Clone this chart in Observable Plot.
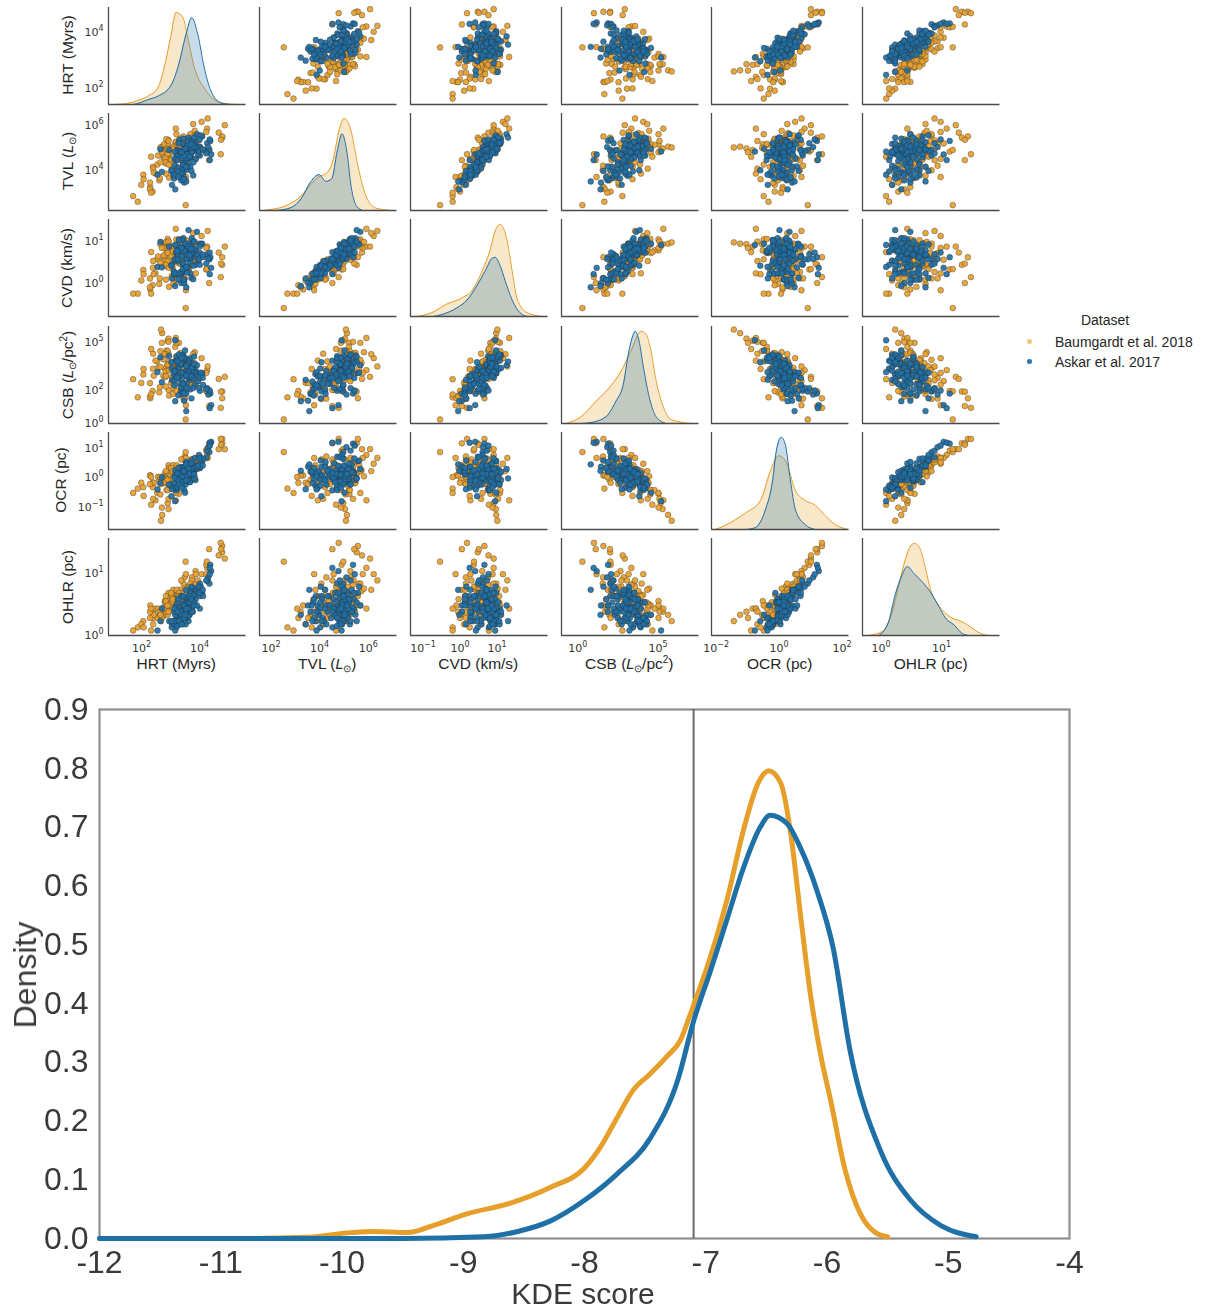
<!DOCTYPE html>
<html><head><meta charset="utf-8">
<script src="https://cdn.jsdelivr.net/npm/d3@7"></script>
<script src="https://cdn.jsdelivr.net/npm/@observablehq/plot@0.6"></script>
<style>
body{margin:0;background:#fff;}
#root{position:relative;width:1208px;height:1311px;background:#fff;font-family:"Liberation Sans",Arial,sans-serif;color:#262626;overflow:hidden}
.ylab{position:absolute;transform:translate(-50%,-50%) rotate(-90deg);white-space:nowrap;font-size:15.5px;line-height:1;color:#262626}
.xlab{position:absolute;transform:translateX(-50%);white-space:nowrap;font-size:15.5px;line-height:1;color:#262626}
.it{font-family:"DejaVu Sans";font-style:italic;font-size:14px}
.sub{font-size:10px;position:relative;top:3px}
.sup{font-size:10px;position:relative;top:-6px}
.leg{position:absolute;font-size:14px;line-height:1;white-space:nowrap;color:#262626}
.dot{position:absolute;width:4.5px;height:4.5px;border-radius:50%}
</style></head><body><div id="root"></div>
<script>
// ---------------- DATA (log10 values) ----------------
const variables = ["HRT","TVL","CVD","CSB","OCR","OHLR"];
const datasets = ["Baumgardt et al. 2018","Askar et al. 2017"];

const baumHRT = [3.09,3.10,2.84,3.71,2.76,2.51,3.38,2.80,4.16,3.00,2.82,3.44,1.96,4.18,3.10,1.77,3.19,2.83,4.68,2.79,2.96,2.61,3.72,2.81,1.89,3.64,3.24,2.44,3.28,4.77,2.65,2.85,3.39,2.83,1.61,3.43,3.15,2.29,4.68,2.70,3.35,3.06,3.97,2.97,2.28,3.29,3.10,2.66,2.38,3.07,4.13,2.99,2.20,3.73,2.72,2.30,3.84,2.93,2.99,2.80,2.80,4.56,2.74,3.34,3.39,2.57,3.29,3.55,2.32,3.09,3.23,2.19,3.76,3.04,2.73,3.12,3.08,2.92,1.97,3.63,2.75,4.63,2.94,3.25,4.23,2.98,3.43,2.23,3.60,2.98,3.42,
  3.15,2.67,3.54,3.34,2.84,2.55,4.13,2.74,3.23,2.83,3.27,3.29,2.19,4.15,3.24,2.47,3.11,3.58,2.60,2.53,3.16,3.77,3.68,2.80,2.23,3.29,3.19,4.64,2.55,3.19];
const baumTVL = [4.90,5.20,4.60,5.50,4.75,3.50,5.05,4.85,5.80,4.00,5.30,4.70,3.75,6.25,4.95,2.55,5.10,4.45,5.40,4.80,3.90,5.00,5.60,4.65,3.30,5.15,4.88,4.20,5.25,5.95,4.55,3.62,5.05,4.92,2.80,5.35,4.72,4.10,5.45,4.82,3.95,5.08,6.10,4.35,3.00,4.98,5.55,4.62,3.80,5.18,4.78,4.86,3.20,5.70,4.50,4.02,5.28,4.93,3.70,5.12,4.68,5.62,4.25,5.02,4.15,4.96,5.36,4.58,3.85,5.22,4.84,3.10,5.14,4.73,4.30,5.03,5.80,4.42,3.55,4.90,5.33,4.66,4.05,5.06,4.40,4.99,3.65,4.55,5.24,4.88,2.40,
  4.80,5.10,4.55,5.45,4.20,4.95,5.65,3.80,4.70,5.25,4.40,5.00,3.40,4.85,5.35,4.60,4.10,5.55,4.75,3.60,5.15,4.45,6.00,4.90,2.95,5.05,4.65,5.30,4.30,4.98];
const baumCVD = [0.70,0.74,0.53,0.90,0.68,-0.05,0.60,0.83,0.83,0.10,0.96,0.35,0.28,1.20,0.59,-0.28,0.74,0.45,0.40,0.78,0.13,0.90,0.91,0.42,0.03,0.68,0.54,0.53,0.83,0.83,0.52,-0.12,0.60,0.89,-0.28,0.98,0.45,0.33,0.58,0.60,0.08,0.74,1.08,0.34,-0.08,0.72,1.00,0.62,0.20,0.72,0.29,0.84,-0.18,0.94,0.50,0.49,0.57,0.62,-0.05,1.01,0.48,0.69,0.37,0.74,0.08,0.93,0.82,0.37,0.18,0.86,0.42,-0.13,0.52,0.67,0.40,0.64,1.25,0.39,0.18,0.48,0.94,0.11,0.13,0.72,-0.03,0.79,-0.20,0.70,0.68,0.72,-0.62,
  0.63,0.80,0.30,0.98,0.33,0.88,0.80,0.05,0.65,0.95,0.23,0.58,0.08,0.30,0.90,0.60,0.05,0.83,0.80,0.08,0.85,0.20,1.15,0.68,-0.28,0.73,0.55,0.43,0.45,0.59];
const baumCSB = [3.51,3.18,3.65,3.28,4.36,1.78,3.29,4.97,3.15,2.03,4.20,2.87,2.88,3.38,3.21,1.47,4.84,1.93,1.83,3.47,2.33,5.44,3.59,3.33,2.36,2.67,3.32,3.69,3.65,2.74,2.81,1.58,3.38,5.10,2.59,3.85,2.84,3.23,1.41,3.25,1.37,4.59,3.89,2.43,1.86,3.30,4.84,3.82,3.74,3.45,1.86,3.58,1.41,4.26,2.73,4.17,2.88,3.26,1.68,4.33,3.13,2.61,2.80,3.05,1.39,5.66,3.73,2.53,2.81,3.99,2.90,1.51,2.47,3.68,3.09,3.43,5.14,2.38,3.22,2.52,4.11,0.82,2.73,3.88,0.93,3.63,0.98,4.46,3.15,3.22,0.10,
  3.21,4.16,2.33,3.78,3.15,4.33,2.98,2.14,3.21,4.90,1.92,3.32,2.35,1.84,4.21,3.30,1.88,3.79,4.84,2.10,3.38,2.25,4.14,3.48,1.65,4.09,2.70,1.82,3.35,2.94];
const baumOCR = [0.05,0.12,-0.25,0.40,-0.45,-0.10,0.20,-0.90,0.75,0.15,-0.22,0.35,-0.35,0.65,0.08,-0.40,-0.58,0.40,1.15,-0.04,0.15,-1.30,0.23,-0.10,-0.20,0.60,-0.08,-0.55,0.22,0.95,0.02,0.30,0.15,-1.10,-0.55,0.00,0.32,-0.35,1.30,0.04,0.60,-0.45,0.45,0.18,-0.20,0.10,-0.55,-0.22,-0.80,0.13,0.90,-0.12,0.05,0.02,0.15,-0.75,0.50,0.15,0.40,-0.45,0.03,0.95,-0.03,0.15,0.70,-1.50,0.07,0.25,-0.20,-0.15,0.30,0.05,0.65,-0.25,-0.05,0.00,-0.80,0.30,-0.65,0.60,-0.10,1.30,-0.10,-0.18,1.15,-0.08,0.65,-0.95,0.33,0.20,0.85,
  0.05,-0.20,0.40,0.15,-0.25,-0.60,0.65,0.20,0.05,-0.75,0.60,0.10,-0.25,0.95,-0.20,0.00,0.40,0.20,-1.05,0.00,0.15,0.50,0.20,-0.10,0.00,-0.30,0.25,1.10,-0.25,0.30];
const baumOHLR = [0.50,0.62,0.35,0.80,0.45,0.30,0.55,0.40,1.05,0.60,0.48,0.70,0.20,0.85,0.58,0.10,0.52,0.65,1.30,0.38,0.45,0.30,0.68,0.55,0.15,0.90,0.47,0.25,0.60,1.20,0.42,0.55,0.75,0.35,0.05,0.50,0.62,0.35,1.40,0.52,0.80,0.40,0.95,0.58,0.25,0.65,0.45,0.28,0.40,0.55,1.10,0.48,0.45,0.72,0.50,0.15,0.85,0.60,0.70,0.30,0.43,1.25,0.52,0.45,0.90,0.20,0.62,0.75,0.30,0.50,0.70,0.35,1.00,0.50,0.40,0.55,0.40,0.65,0.10,0.85,0.35,1.45,0.50,0.62,1.35,0.42,0.95,0.05,0.78,0.55,1.15,
  0.55,0.40,0.75,0.60,0.45,0.30,0.95,0.60,0.50,0.35,0.85,0.65,0.25,1.15,0.45,0.40,0.70,0.80,0.25,0.35,0.55,0.95,0.70,0.45,0.40,0.50,0.65,1.35,0.30,0.60];

const askarHRT = [3.56,3.43,3.12,3.34,3.66,3.42,3.26,4.24,3.20,3.57,3.01,3.56,3.99,3.09,3.16,3.09,3.91,4.30,2.95,3.14,3.76,3.53,2.94,3.61,3.81,3.33,2.55,3.37,3.55,3.62,3.34,4.16,3.59,3.32,2.45,3.91,3.34,3.76,2.60,3.20,4.27,3.55,3.58,3.62,3.27,3.56,3.25,3.47,3.73,3.52,3.34,3.23,3.43,3.67,3.05,4.20,3.57,3.27,3.48,3.94,3.44,3.44,3.37,3.40,3.91,3.69,3.17,3.61,3.45,3.62,3.51,3.50,3.30,3.47,3.02,3.80,3.06,4.25,3.51,3.68,3.25,3.58,3.44,4.25,3.06,3.44,3.13,3.72,3.44,3.64,
  3.63,3.61,3.28,3.16,3.63,3.85,2.85,3.69,3.71,3.04,3.88,3.37,3.52,3.33,3.40,3.36,4.13,3.19,3.04,4.02,2.93,3.90,3.55,3.28,3.17,3.70,3.14,4.01,3.44,3.61];
const askarTVL = [4.80,4.95,4.60,3.85,5.10,4.70,3.95,4.85,5.30,4.50,3.70,4.90,5.45,4.40,4.75,3.80,5.00,4.65,3.30,4.85,5.20,4.55,3.90,4.78,5.55,4.20,4.88,3.60,5.05,4.72,4.00,5.15,4.62,4.82,3.75,4.95,5.35,4.45,3.88,4.80,5.25,4.58,4.10,4.92,3.50,5.08,4.68,3.98,4.84,5.40,4.30,3.65,4.76,5.18,4.15,4.98,4.52,3.82,4.87,5.50,4.35,4.70,3.40,5.02,4.60,4.83,4.05,5.28,4.48,3.92,4.90,4.25,5.12,4.66,3.58,4.96,4.78,4.40,5.22,3.72,4.74,4.88,4.12,5.32,3.10,4.93,4.58,5.05,3.45,4.80,
  4.75,4.95,4.50,3.90,5.20,4.65,4.85,4.30,5.40,3.75,4.80,4.60,5.05,4.20,4.90,3.55,4.70,5.15,4.45,4.85,3.95,5.30,4.55,4.75,3.65,5.00,4.40,4.88,4.10,5.10];
const askarCVD = [0.73,0.80,0.68,0.23,0.78,0.88,0.18,0.53,1.00,0.53,0.25,0.70,0.90,0.70,0.63,0.18,0.90,0.33,0.08,0.80,0.75,0.63,0.40,0.62,1.18,0.43,0.94,0.05,0.83,0.55,0.38,0.65,0.59,0.77,0.35,0.68,1.03,0.40,0.34,0.83,0.58,0.64,0.20,0.75,-0.03,0.79,0.74,0.22,0.61,1.22,0.43,0.20,0.64,0.97,0.50,0.54,0.44,0.24,0.73,0.88,0.55,0.56,-0.03,0.89,0.40,0.67,0.48,0.87,0.54,0.09,0.81,0.33,0.99,0.64,0.19,0.64,0.87,0.18,0.90,0.06,0.76,0.64,0.34,0.69,-0.10,0.79,0.73,0.72,-0.13,0.68,
  0.68,0.75,0.60,0.20,1.03,0.50,0.83,0.38,0.95,0.20,0.53,0.73,0.83,0.30,0.90,0.05,0.43,0.98,0.53,0.58,0.38,0.83,0.63,0.80,0.05,0.78,0.53,0.64,0.35,0.78];
const askarCSB = [2.98,3.49,4.02,2.12,3.56,3.66,1.84,1.83,3.74,3.01,2.91,3.54,2.97,3.73,3.41,2.76,2.95,0.99,2.55,3.06,3.02,2.65,3.25,3.49,3.46,2.38,3.95,1.96,3.61,2.57,2.74,2.04,2.91,3.00,3.03,2.84,4.06,3.16,2.41,3.33,1.70,2.94,1.96,3.17,1.68,3.87,3.51,2.30,2.19,3.68,2.31,2.29,3.49,3.22,3.11,1.64,3.34,2.10,3.48,2.99,2.85,3.12,1.26,3.86,1.87,3.04,2.63,3.55,2.05,1.41,3.54,2.72,4.08,2.99,2.45,2.77,5.00,0.80,3.37,2.05,3.53,2.92,1.69,1.89,1.23,3.40,3.69,3.00,0.62,2.81,
  3.11,3.35,2.98,2.78,3.29,2.47,4.02,2.64,3.99,2.21,2.05,3.91,3.05,2.30,4.37,1.71,1.99,4.12,3.09,2.23,3.64,2.67,2.87,3.92,1.59,3.54,2.68,2.68,2.82,2.77];
const askarOCR = [0.18,0.03,-0.40,0.13,-0.03,-0.26,0.34,0.85,0.14,-0.06,-0.29,-0.08,0.54,-0.46,-0.03,-0.37,0.30,1.20,-0.42,0.16,0.43,0.22,-0.30,-0.11,0.27,0.18,-0.21,0.08,-0.03,0.30,-0.08,0.90,0.11,0.18,-0.43,0.34,-0.11,-0.11,-0.02,-0.02,1.14,-0.03,0.35,0.19,0.18,-0.16,-0.13,0.05,0.64,-0.05,0.27,-0.08,-0.13,0.26,-0.26,1.02,-0.18,0.18,-0.06,0.56,0.00,0.05,0.35,-0.08,0.69,0.16,-0.05,0.13,0.46,0.56,-0.08,0.02,-0.26,0.10,-0.21,0.38,-0.83,1.17,0.19,0.10,-0.16,0.26,0.51,1.07,0.21,0.02,-0.34,0.30,0.43,0.27,
  0.08,0.11,0.01,-0.10,0.17,0.38,-0.26,0.09,-0.05,0.02,0.75,-0.45,0.28,0.22,-0.54,0.19,0.67,-0.26,-0.02,0.62,-0.66,0.63,0.10,-0.37,0.31,0.09,0.12,0.39,-0.12,0.46];
const askarOHLR = [0.35,0.45,0.25,0.30,0.55,0.15,0.60,0.80,0.40,0.35,0.20,0.50,0.65,0.10,0.30,0.45,0.40,1.00,0.15,0.25,0.70,0.40,0.10,0.55,0.45,0.35,0.20,0.50,0.30,0.62,0.25,0.85,0.45,0.38,0.05,0.60,0.30,0.55,0.40,0.15,1.10,0.30,0.70,0.42,0.35,0.50,0.20,0.55,0.72,0.20,0.45,0.25,0.48,0.35,0.15,0.90,0.65,0.35,0.32,0.75,0.25,0.58,0.45,0.25,0.80,0.50,0.20,0.55,0.40,0.75,0.28,0.60,0.15,0.38,0.20,0.68,0.05,1.05,0.42,0.60,0.22,0.60,0.45,0.95,0.30,0.35,0.12,0.62,0.70,0.45,
  0.40,0.55,0.30,0.50,0.35,0.65,0.20,0.45,0.50,0.35,0.75,0.25,0.40,0.60,0.30,0.45,0.85,0.20,0.40,0.60,0.20,0.65,0.50,0.15,0.55,0.45,0.35,0.70,0.40,0.55];

// diagonal KDE curves: [log10 value, density relative to panel height]
const baumKdeHRT = [[0.95,0],[1.4,0.01],[1.77,0.04],[2.11,0.085],[2.46,0.17],[2.68,0.38],[2.92,0.72],[3.09,0.95],[3.32,0.9],[3.49,0.69],[3.72,0.38],[4.06,0.17],[4.41,0.05],[4.87,0.006],[5.33,0]];
const askarKdeHRT = [[1.6,0],[1.77,0.01],[2.11,0.05],[2.46,0.085],[2.92,0.2],[3.15,0.38],[3.43,0.72],[3.63,0.895],[3.84,0.72],[4.06,0.38],[4.29,0.14],[4.64,0.017],[4.98,0]];
const baumKdeTVL = [[1.54,0],[1.87,0.01],[2.49,0.05],[3.11,0.15],[3.52,0.27],[3.85,0.35],[4.14,0.38],[4.42,0.51],[4.67,0.82],[4.88,0.95],[5.17,0.82],[5.45,0.46],[5.78,0.15],[6.19,0.025],[6.81,0]];
const askarKdeTVL = [[2.08,0],[2.7,0.03],[3.11,0.12],[3.52,0.3],[3.85,0.37],[4.14,0.30],[4.38,0.33],[4.59,0.6],[4.8,0.79],[5.0,0.6],[5.17,0.25],[5.41,0.04],[5.66,0]];
const baumKdeCVD = [[-1.24,0],[-0.84,0.04],[-0.43,0.13],[-0.03,0.19],[0.25,0.27],[0.52,0.47],[0.73,0.68],[0.87,0.88],[1.0,0.95],[1.19,0.79],[1.33,0.47],[1.46,0.19],[1.73,0.04],[2.14,0]];
const askarKdeCVD = [[-0.8,0],[-0.57,0.02],[-0.16,0.09],[0.11,0.17],[0.38,0.32],[0.6,0.47],[0.79,0.6],[0.87,0.61],[1.0,0.53],[1.14,0.37],[1.33,0.17],[1.54,0.04],[1.73,0]];
const baumKdeCSB = [[-0.92,0],[0.015,0.07],[0.95,0.23],[1.88,0.39],[2.51,0.54],[3.13,0.75],[3.75,0.95],[4.06,0.92],[4.37,0.75],[4.69,0.44],[5.12,0.18],[5.62,0.04],[6.87,0]];
const askarKdeCSB = [[0.0,0],[0.64,0.01],[1.57,0.07],[2.19,0.23],[2.63,0.39],[3.0,0.75],[3.25,0.91],[3.38,0.95],[3.63,0.85],[3.88,0.6],[4.25,0.28],[4.69,0.07],[5.31,0]];
const baumKdeOCR = [[-2.08,0],[-1.61,0.07],[-1.13,0.17],[-0.65,0.3],[-0.34,0.6],[-0.08,0.76],[0.14,0.71],[0.46,0.4],[0.77,0.3],[1.09,0.25],[1.41,0.14],[1.73,0.05],[2.14,0]];
const askarKdeOCR = [[-1.1,0],[-0.81,0.02],[-0.5,0.2],[-0.27,0.5],[-0.15,0.81],[0.01,0.95],[0.14,0.87],[0.3,0.5],[0.46,0.2],[0.77,0.05],[1.09,0]];
const baumKdeOHLR = [[-0.24,0],[-0.015,0.04],[0.15,0.24],[0.26,0.52],[0.37,0.79],[0.45,0.92],[0.52,0.95],[0.62,0.88],[0.7,0.69],[0.78,0.48],[0.92,0.31],[1.11,0.19],[1.31,0.14],[1.44,0.09],[1.61,0.02],[1.74,0]];
const askarKdeOHLR = [[-0.07,0],[0.09,0.14],[0.2,0.42],[0.31,0.62],[0.4,0.71],[0.51,0.64],[0.65,0.55],[0.78,0.45],[0.92,0.3],[1.03,0.18],[1.17,0.11],[1.31,0.02],[1.41,0]];

// axis domains / ticks (log10 exponents)
const colDomainHRT=[0.76,5.5], colDomainTVL=[1.4,7.06], colDomainCVD=[-1.42,2.30], colDomainCSB=[-1.2,7.36], colDomainOCR=[-2.21,2.16], colDomainOHLR=[-0.34,1.93];
const rowDomainHRT=[1.40,4.83], rowDomainTVL=[2.16,6.47], rowDomainCVD=[-0.82,1.47], rowDomainCSB=[-0.15,5.85], rowDomainOCR=[-1.80,1.52], rowDomainOHLR=[-0.03,1.52];
const colTicksHRT=[2,4], colTicksTVL=[2,4,6], colTicksCVD=[-1,0,1], colTicksCSB=[0,5], colTicksOCR=[-2,0,2], colTicksOHLR=[0,1];
const rowTicksHRT=[2,4], rowTicksTVL=[4,6], rowTicksCVD=[0,1], rowTicksCSB=[0,2,5], rowTicksOCR=[-1,0,1], rowTicksOHLR=[0,1];

// bottom chart
const kdeScoreBaum = [[-12,0],[-10.75,0],[-10.3,0.002],[-9.93,0.010],[-9.74,0.012],[-9.46,0.010],[-9.25,0.022],[-8.97,0.042],[-8.61,0.060],[-8.28,0.087],[-8.0,0.12],[-7.87,0.155],[-7.73,0.206],[-7.6,0.252],[-7.46,0.28],[-7.32,0.31],[-7.21,0.337],[-7.13,0.38],[-6.96,0.48],[-6.82,0.58],[-6.69,0.694],[-6.57,0.774],[-6.48,0.796],[-6.38,0.774],[-6.3,0.69],[-6.22,0.553],[-6.14,0.42],[-6.05,0.31],[-5.97,0.235],[-5.85,0.116],[-5.72,0.04],[-5.6,0.01],[-5.5,0.003]];
const kdeScoreAskar = [[-12,0],[-9.5,0],[-8.83,0.003],[-8.55,0.012],[-8.28,0.03],[-8.0,0.065],[-7.73,0.11],[-7.46,0.17],[-7.23,0.27],[-7.1,0.37],[-6.96,0.456],[-6.82,0.546],[-6.69,0.63],[-6.55,0.70],[-6.47,0.72],[-6.33,0.706],[-6.22,0.665],[-6.08,0.59],[-5.95,0.495],[-5.81,0.32],[-5.56,0.15],[-5.31,0.065],[-5.06,0.022],[-4.77,0.003]];
const kdeThreshold = -7.1;
const kdeXTicks = [-12,-11,-10,-9,-8,-7,-6,-5,-4];
const kdeYTicks = [0,0.1,0.2,0.3,0.4,0.5,0.6,0.7,0.8,0.9];

// ---------------- BUILD ----------------
const ORANGE = "#e79f2c", BLUE = "#1f70a6";
const root = document.getElementById("root");
function table(H,T,C,S,O,R){ return H.map((_,k)=>({HRT:H[k],TVL:T[k],CVD:C[k],CSB:S[k],OCR:O[k],OHLR:R[k]})); }
const baum = table(baumHRT,baumTVL,baumCVD,baumCSB,baumOCR,baumOHLR);
const askar = table(askarHRT,askarTVL,askarCVD,askarCSB,askarOCR,askarOHLR);
const baumKde = {HRT:baumKdeHRT,TVL:baumKdeTVL,CVD:baumKdeCVD,CSB:baumKdeCSB,OCR:baumKdeOCR,OHLR:baumKdeOHLR};
const askarKde = {HRT:askarKdeHRT,TVL:askarKdeTVL,CVD:askarKdeCVD,CSB:askarKdeCSB,OCR:askarKdeOCR,OHLR:askarKdeOHLR};
const colDomain = {HRT:colDomainHRT,TVL:colDomainTVL,CVD:colDomainCVD,CSB:colDomainCSB,OCR:colDomainOCR,OHLR:colDomainOHLR};
const rowDomain = {HRT:rowDomainHRT,TVL:rowDomainTVL,CVD:rowDomainCVD,CSB:rowDomainCSB,OCR:rowDomainOCR,OHLR:rowDomainOHLR};
const colTicks = {HRT:colTicksHRT,TVL:colTicksTVL,CVD:colTicksCVD,CSB:colTicksCSB,OCR:colTicksOCR,OHLR:colTicksOHLR};
const rowTicks = {HRT:rowTicksHRT,TVL:rowTicksTVL,CVD:rowTicksCVD,CSB:rowTicksCSB,OCR:rowTicksOCR,OHLR:rowTicksOHLR};

const pow10 = d => "10^" + d;
// turn "10^k" tick labels into 10 with a real superscript
function supify(svg){
  svg.querySelectorAll("text").forEach(t => {
    const s = t.textContent;
    if (s.indexOf("^") < 0) return;
    const exp = s.split("^")[1].replace("-", "−").replace("\u2212", "−");
    t.textContent = "10";
    const ts = document.createElementNS("http://www.w3.org/2000/svg", "tspan");
    ts.setAttribute("dy", "-5");
    ts.setAttribute("font-size", "8px");
    ts.textContent = exp;
    t.appendChild(ts);
  });
  return svg;
}

const colLeft = [107.5, 258.5, 409.5, 560.5, 711, 862];
const rowTop = [6.5, 112.7, 219.3, 326, 431.7, 538.3];
const PW = 137.5, PH = 97, M = 6;
const SPINE = "#4a4a4a";

function place(el, left, top){ el.style.position="absolute"; el.style.left=left+"px"; el.style.top=top+"px"; root.appendChild(el); return el; }
const kx = d => d[0], ky = d => d[1];

for (let i = 0; i < 6; i++) {
  for (let j = 0; j < 6; j++) {
    const yv = variables[i], xv = variables[j];
    const xd = colDomain[xv];
    const yd = i === j ? [0, 1] : rowDomain[yv];
    let marks;
    if (i === j) {
      marks = [
        Plot.areaY(baumKde[xv], {x: kx, y: ky, fill: ORANGE, fillOpacity: 0.25, curve: "monotone-x"}),
        Plot.lineY(baumKde[xv], {x: kx, y: ky, stroke: ORANGE, strokeWidth: 1, curve: "monotone-x"}),
        Plot.areaY(askarKde[xv], {x: kx, y: ky, fill: BLUE, fillOpacity: 0.25, curve: "monotone-x"}),
        Plot.lineY(askarKde[xv], {x: kx, y: ky, stroke: BLUE, strokeWidth: 1, curve: "monotone-x"})
      ];
    } else {
      marks = [
        Plot.dot(baum, {x: xv, y: yv, r: 2.9, fill: ORANGE, fillOpacity: 0.92, stroke: "#3a3a3a", strokeWidth: 0.4}),
        Plot.dot(askar, {x: xv, y: yv, r: 2.9, fill: BLUE, fillOpacity: 0.92, stroke: "#2a2a2a", strokeWidth: 0.4})
      ];
    }
    marks.push(Plot.ruleX([xd[0]], {stroke: SPINE, strokeWidth: 1.3}));
    marks.push(Plot.ruleY([yd[0]], {stroke: SPINE, strokeWidth: 1.3}));
    const svg = Plot.plot({
      width: PW + 2*M, height: PH + 2*M, margin: M,
      x: {domain: xd, axis: null}, y: {domain: yd, axis: null},
      style: {background: "transparent", overflow: "visible"},
      marks
    });
    place(svg, colLeft[j] - M, rowTop[i] - M);
  }
}

// row y-axes (tick labels)
for (let i = 0; i < 6; i++) {
  const v = variables[i];
  const svg = Plot.plot({
    width: 108, height: PH + 2*M, marginLeft: 107, marginRight: 0, marginTop: M, marginBottom: M,
    y: {domain: rowDomain[v]},
    style: {background: "transparent", overflow: "visible", fontFamily: "DejaVu Sans", fontSize: "11px", color: "#333"},
    marks: [Plot.axisY({ticks: rowTicks[v], tickFormat: pow10, tickSize: 0, tickPadding: 5, label: null})]
  });
  place(supify(svg), 0.5, rowTop[i] - M + 1.5);
}
// column x-axes (tick labels)
for (let j = 0; j < 6; j++) {
  const v = variables[j];
  const svg = Plot.plot({
    width: PW + 2*M, height: 30, marginLeft: M, marginRight: M, marginTop: 0, marginBottom: 29,
    x: {domain: colDomain[v]},
    style: {background: "transparent", overflow: "visible", fontFamily: "DejaVu Sans", fontSize: "11px", color: "#333"},
    marks: [Plot.axisX({ticks: colTicks[v], tickFormat: pow10, tickSize: 0, tickPadding: 9, label: null})]
  });
  place(supify(svg), colLeft[j] - M - 2.5, 635 - 1);
}

// axis titles
const lsun = '<span class="it">L</span><span class="sub">⊙</span>';
const labelsHTML = {
  HRT: "HRT (Myrs)",
  TVL: "TVL (" + lsun + ")",
  CVD: "CVD (km/s)",
  CSB: "CSB (" + lsun + "/pc<span class=\"sup\">2</span>)",
  OCR: "OCR (pc)",
  OHLR: "OHLR (pc)"
};
const yLabelX = [68, 67.5, 67, 68, 60.5, 67.5];
variables.forEach((v, i) => {
  const d = document.createElement("div");
  d.className = "ylab"; d.innerHTML = labelsHTML[v];
  d.style.left = yLabelX[i] + "px"; d.style.top = (rowTop[i] + PH/2) + "px";
  root.appendChild(d);
});
variables.forEach((v, j) => {
  const d = document.createElement("div");
  d.className = "xlab"; d.innerHTML = labelsHTML[v];
  d.style.left = (colLeft[j] + PW/2) + "px"; d.style.top = "656px";
  root.appendChild(d);
});

// legend
(function(){
  const t = document.createElement("div"); t.className = "leg"; t.textContent = "Dataset";
  t.style.left = "1105px"; t.style.top = "313px"; t.style.transform = "translateX(-50%)"; root.appendChild(t);
  const cols = [ORANGE, BLUE], ys = [341.5, 361.5];
  datasets.forEach((name, k) => {
    const dot = document.createElement("div"); dot.className = "dot";
    dot.style.background = cols[k]; dot.style.opacity = k === 0 ? 0.6 : 0.95;
    dot.style.left = (1029.5 - 2.25) + "px"; dot.style.top = (ys[k] - 2.25) + "px"; root.appendChild(dot);
    const l = document.createElement("div"); l.className = "leg"; l.textContent = name;
    l.style.left = "1055px"; l.style.top = (ys[k] - 7) + "px"; root.appendChild(l);
  });
})();

// bottom KDE-score chart
const minusFmt = d => d < 0 ? "-" + Math.abs(d) : String(d);
const bottom = Plot.plot({
  width: 1208, height: 621, marginLeft: 99, marginRight: 139, marginTop: 19, marginBottom: 73,
  x: {domain: [-12, -4]}, y: {domain: [0, 0.9]},
  style: {background: "transparent", overflow: "visible", fontFamily: "Liberation Sans, Arial, sans-serif", fontSize: "32px", color: "#3a3a3a"},
  marks: [
    Plot.frame({stroke: "#8e8e8e", strokeWidth: 2.2}),
    Plot.ruleX([kdeThreshold], {stroke: "#6a6a6a", strokeWidth: 2}),
    Plot.line(kdeScoreBaum, {x: kx, y: ky, stroke: ORANGE, strokeWidth: 5, curve: "monotone-x", strokeLinecap: "round"}),
    Plot.line(kdeScoreAskar, {x: kx, y: ky, stroke: BLUE, strokeWidth: 5, curve: "monotone-x", strokeLinecap: "round"}),
    Plot.axisX({ticks: kdeXTicks, tickFormat: minusFmt, tickSize: 0, tickPadding: 12, label: null}),
    Plot.axisY({ticks: kdeYTicks, tickFormat: d3.format(".1f"), tickSize: 0, tickPadding: 11, label: null})
  ]
});
bottom.style.filter = "blur(0.6px)";
place(bottom, 0, 690);

const dl = document.createElement("div");
dl.style.cssText = "position:absolute;left:25px;top:975px;transform:translate(-50%,-50%) rotate(-90deg);font-size:32px;line-height:1;color:#3a3a3a;white-space:nowrap;filter:blur(0.6px)";
dl.textContent = "Density"; root.appendChild(dl);
const kl = document.createElement("div");
kl.style.cssText = "position:absolute;left:583px;top:1281px;transform:translateX(-50%);font-size:30px;line-height:26px;height:26px;color:#3a3a3a;white-space:nowrap;filter:blur(0.6px)";
kl.textContent = "KDE score"; root.appendChild(kl);
</script></body></html>
